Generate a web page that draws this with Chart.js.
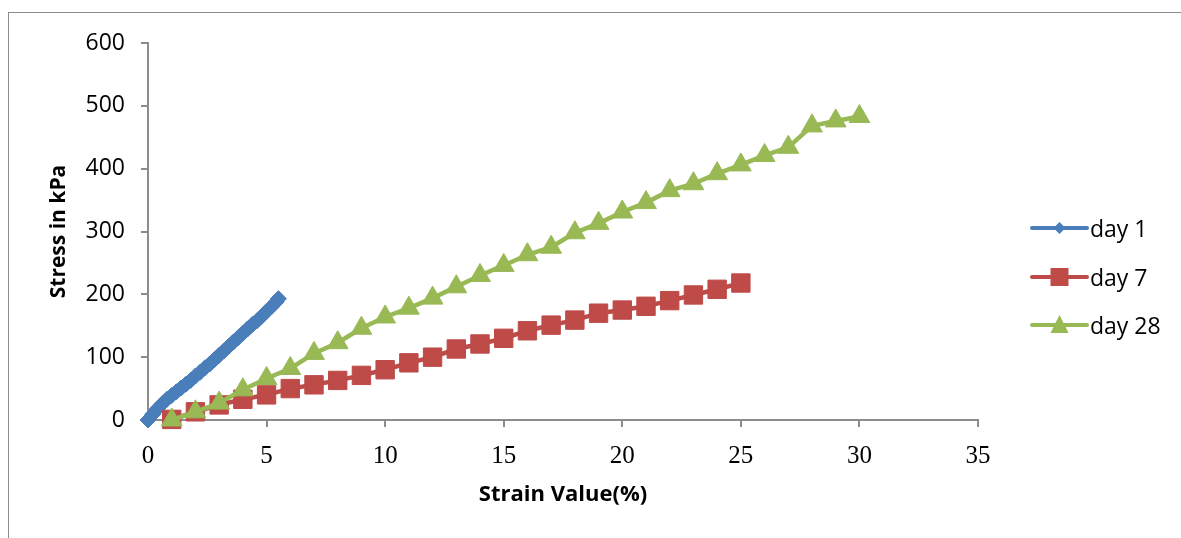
<!DOCTYPE html>
<html>
<head>
<meta charset="utf-8">
<script src="https://cdn.jsdelivr.net/npm/chart.js@4/dist/chart.umd.min.js"></script>
<style>
  html, body { margin: 0; padding: 0; background: #ffffff; }
  #wrap { width: 1181px; height: 538px; position: relative; }
</style>
</head>
<body>
<div id="wrap"><canvas id="c" width="1181" height="538"></canvas></div>
<script>
// ---- data ----
const seriesNames = ['day 1', 'day 7', 'day 28'];

const day1Strain = [0, 0.2, 0.4, 0.6, 0.8, 1.0, 1.2, 1.4, 1.6, 1.8, 2.0, 2.2, 2.4, 2.6, 2.8, 3.0, 3.2, 3.4, 3.6, 3.8, 4.0, 4.2, 4.4, 4.6, 4.8, 5.0, 5.2, 5.4, 5.5];
const day1Stress = [0, 9, 18, 26, 33, 39, 45, 51, 57, 63, 70, 76, 83, 89, 96, 103, 110, 117, 124, 131, 138, 145, 152, 158, 165, 173, 180, 188, 193];

const day7Strain = [1, 2, 3, 4, 5, 6, 7, 8, 9, 10, 11, 12, 13, 14, 15, 16, 17, 18, 19, 20, 21, 22, 23, 24, 25];
const day7Stress = [1, 13, 24, 33, 40, 50, 56, 63, 71, 80, 91, 100, 113, 121, 130, 142, 151, 159, 170, 175, 181, 190, 199, 208, 218];

const day28Strain = [1, 2, 3, 4, 5, 6, 7, 8, 9, 10, 11, 12, 13, 14, 15, 16, 17, 18, 19, 20, 21, 22, 23, 24, 25, 26, 27, 28, 29, 30];
const day28Stress = [0, 13, 27, 48, 66, 82, 106, 123, 146, 164, 178, 194, 212, 230, 246, 263, 275, 298, 313, 331, 346, 365, 376, 392, 406, 421, 434, 468, 476, 483];

const xTickMin = 0, xTickMax = 35, xTickStep = 5;
const yTickMin = 0, yTickMax = 600, yTickStep = 100;

const xTitle = 'Strain Value(%)';
const yTitle = 'Stress in kPa';

// ---- styling ----
const colors = ['#4A7EBB', '#BE4B48', '#98B954'];
const pointStyles = ['rectRot', 'rect', 'triangle'];
const pointRadii = [8, 13, 12];
const lineWidths = [8, 4.5, 4.5];
const axisGray = '#8c8c8c';

function toPoints(xs, ys) { return xs.map((x, i) => ({ x: x, y: ys[i] })); }

const frameAndLegend = {
  id: 'frameAndLegend',
  beforeDraw(chart) {
    const ctx = chart.ctx;
    ctx.save();
    ctx.fillStyle = '#ffffff';
    ctx.fillRect(0, 0, chart.width, chart.height);
    ctx.strokeStyle = '#8a8a8a';
    ctx.lineWidth = 1;
    ctx.strokeRect(8.5, 12.5, 1300, 700);
    ctx.restore();
  },
  afterDraw(chart) {
    const ctx = chart.ctx;
    const ys = [228, 277, 325];
    const x0 = 1032, x1 = 1087, xm = (x0 + x1) / 2;
    ctx.save();
    chart.data.datasets.forEach((ds, i) => {
      const y = ys[i];
      ctx.strokeStyle = ds.borderColor;
      ctx.lineWidth = 4;
      ctx.lineCap = 'round';
      ctx.beginPath();
      ctx.moveTo(x0, y);
      ctx.lineTo(x1, y);
      ctx.stroke();
      ctx.fillStyle = ds.pointBackgroundColor;
      ctx.beginPath();
      if (i === 0) {
        const r = 6;
        ctx.moveTo(xm, y - r); ctx.lineTo(xm + r, y); ctx.lineTo(xm, y + r); ctx.lineTo(xm - r, y);
      } else if (i === 1) {
        ctx.rect(xm - 9, y - 9, 18, 18);
      } else {
        ctx.moveTo(xm, y - 10); ctx.lineTo(xm + 9, y + 8); ctx.lineTo(xm - 9, y + 8);
      }
      ctx.closePath();
      ctx.fill();
      ctx.fillStyle = '#000000';
      ctx.font = '23px "Open Sans"';
      ctx.textAlign = 'left';
      ctx.textBaseline = 'middle';
      ctx.fillText(ds.label, 1090, y + 2);
    });
    ctx.restore();
  }
};

const datasets = [
  toPoints(day1Strain, day1Stress),
  toPoints(day7Strain, day7Stress),
  toPoints(day28Strain, day28Stress)
].map((pts, i) => ({
  label: seriesNames[i],
  data: pts,
  showLine: true,
  borderColor: colors[i],
  backgroundColor: colors[i],
  pointBackgroundColor: colors[i],
  pointBorderColor: colors[i],
  pointBorderWidth: 1,
  borderWidth: lineWidths[i],
  pointStyle: pointStyles[i],
  pointRadius: pointRadii[i],
  pointHoverRadius: pointRadii[i],
  tension: 0,
  clip: false,
  order: 2 - i
}));

new Chart(document.getElementById('c'), {
  type: 'scatter',
  data: { datasets: datasets },
  plugins: [frameAndLegend],
  options: {
    responsive: false,
    animation: false,
    events: [],
    layout: { padding: { left: 0, top: 43, right: 203, bottom: 0 } },
    plugins: {
      legend: { display: false },
      tooltip: { enabled: false },
      title: { display: false }
    },
    scales: {
      x: {
        type: 'linear',
        position: 'bottom',
        min: xTickMin,
        max: xTickMax,
        afterFit(scale) { scale.height = 118; },
        ticks: {
          stepSize: xTickStep,
          color: '#000000',
          padding: 14,
          maxRotation: 0,
          font: { family: '"Liberation Serif", "Times New Roman", serif', size: 25 }
        },
        grid: { drawOnChartArea: false, drawTicks: true, tickLength: 7, color: axisGray, lineWidth: 2 },
        border: { display: true, color: axisGray, width: 2 },
        title: {
          display: true,
          text: xTitle,
          color: '#000000',
          font: { family: '"Open Sans", sans-serif', size: 22, weight: 'bold' },
          padding: { top: 0, bottom: 30 }
        }
      },
      y: {
        type: 'linear',
        position: 'left',
        min: yTickMin,
        max: yTickMax,
        afterFit(scale) { scale.width = 148; },
        ticks: {
          stepSize: yTickStep,
          color: '#000000',
          padding: 16,
          font: { family: '"Open Sans", sans-serif', size: 23 }
        },
        grid: { drawOnChartArea: false, drawTicks: true, tickLength: 7, color: axisGray, lineWidth: 2 },
        border: { display: true, color: axisGray, width: 2 },
        title: {
          display: true,
          text: yTitle,
          color: '#000000',
          font: { family: '"Open Sans", sans-serif', size: 21, weight: 'bold' },
          padding: { top: 46, bottom: 0 }
        }
      }
    }
  }
});
</script>
</body>
</html>
